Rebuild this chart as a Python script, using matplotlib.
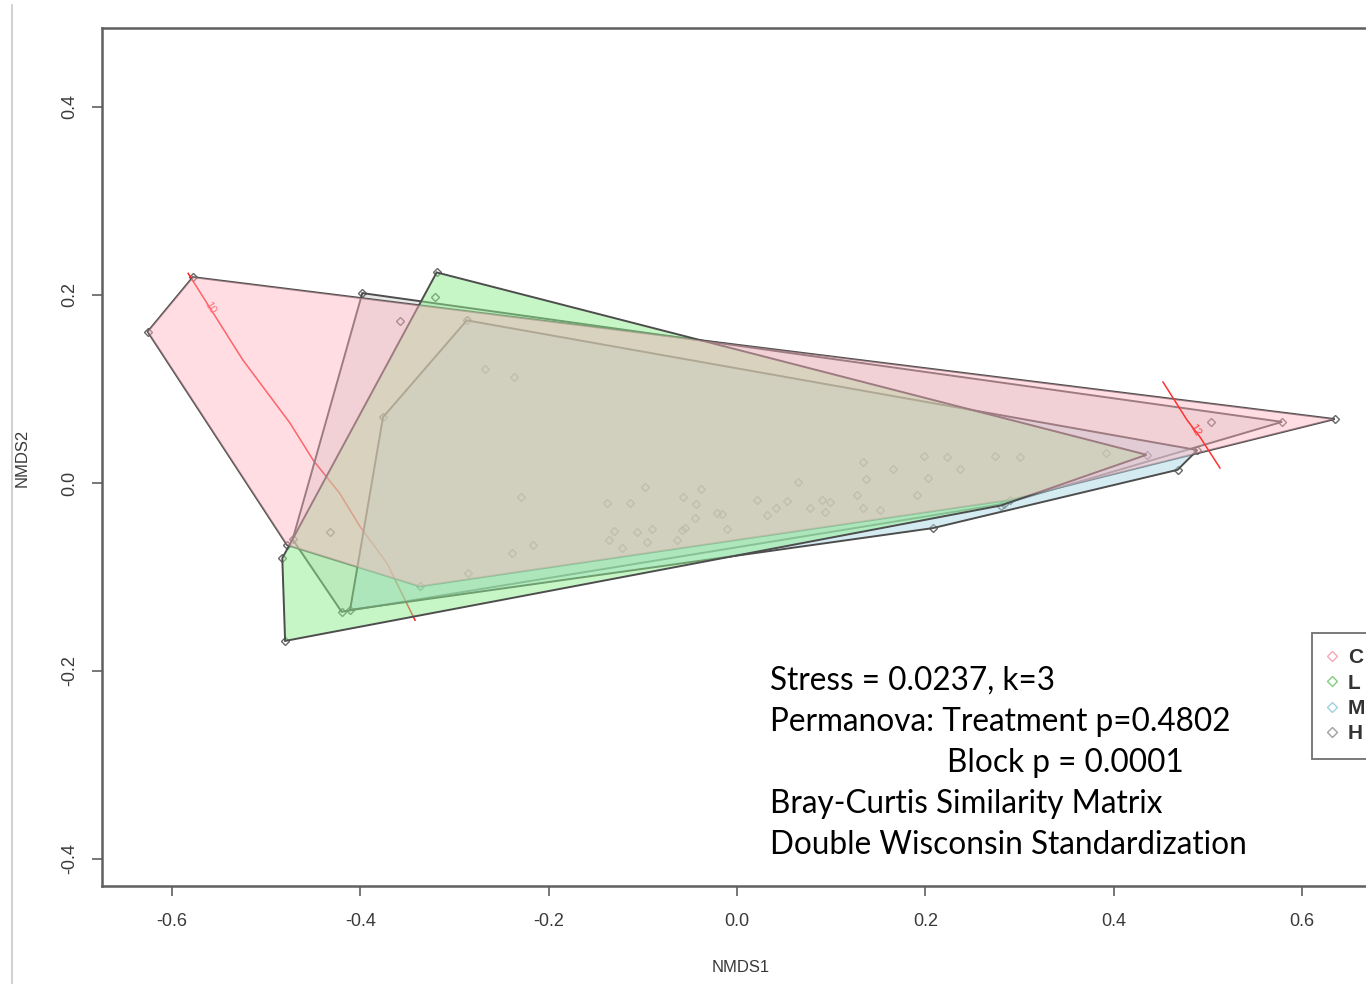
import matplotlib.pyplot as plt
import numpy as np
from matplotlib.patches import Polygon
from matplotlib.lines import Line2D

plt.rcParams['font.family'] = ['Liberation Sans Narrow', 'Liberation Sans', 'DejaVu Sans']

# NMDS site scores per treatment group
C_x = [-0.578, -0.626, -0.478, -0.337, 0.290, 0.635,
       -0.268, -0.0977, -0.0446, -0.1356, -0.2393, -0.0103, 0.0315, 0.0988, 0.134, -0.064, 0.237, 0.152,
       -0.432, -0.358, 0.504]
C_y = [0.219, 0.161, -0.066, -0.110, -0.018, 0.068,
       0.121, -0.0039, -0.0376, -0.0606, -0.0748, -0.0493, -0.034, -0.0199, 0.0227, -0.0606, 0.0149, -0.0287,
       -0.052, 0.172, 0.065]
L_x = [-0.319, -0.483, -0.480, 0.280, 0.435,
       -0.229, -0.057, -0.0906, -0.1225, -0.0216, 0.0411, 0.0775, 0.127, 0.1986, 0.3006, 0.191, -0.1065,
       -0.321]
L_y = [0.224, -0.080, -0.168, -0.024, 0.030,
       -0.0146, -0.0152, -0.0493, -0.0695, -0.0316, -0.027, -0.027, -0.0128, 0.0287, 0.0277, -0.0128, -0.052,
       0.198]
M_x = [-0.287, -0.376, -0.411, 0.208, 0.468, 0.489,
       -0.138, -0.0435, -0.131, -0.2163, -0.0163, 0.0528, 0.090, 0.137, 0.2227, 0.392, 0.134, -0.0588]
M_y = [0.173, 0.070, -0.135, -0.048, 0.014, 0.035,
       -0.0216, -0.0227, -0.0507, -0.066, -0.033, -0.0191, -0.0181, 0.0039, 0.0273, 0.032, -0.0266, -0.05]
H_x = [-0.398, -0.472, -0.420, 0.284, 0.579,
       -0.237, -0.0386, -0.0552, -0.0959, -0.2854, 0.0216, 0.0651, 0.0935, 0.166, 0.274, 0.203, -0.114]
H_y = [0.202, -0.060, -0.137, -0.022, 0.065,
       0.113, -0.0064, -0.0482, -0.0624, -0.0954, -0.0181, 0.0014, -0.0305, 0.0146, 0.0287, 0.0053, -0.021]

# fitted surface contour lines
contour10_x = [-0.583, -0.525, -0.475, -0.450, -0.422, -0.400, -0.372, -0.342]
contour10_y = [0.223, 0.131, 0.064, 0.024, -0.011, -0.047, -0.085, -0.146]
contour12_x = [0.4525, 0.478, 0.4918, 0.513]
contour12_y = [0.1074, 0.067, 0.0489, 0.016]

groups = ["C", "L", "M", "H"]
stats_lines = ["Stress = 0.0237, k=3",
               "Permanova: Treatment p=0.4802",
               "Block p = 0.0001",
               "Bray-Curtis Similarity Matrix",
               "Double Wisconsin Standardization"]


def convex_hull(xs, ys):
    pts = sorted(set(zip(xs, ys)))

    def cross(o, a, b):
        return (a[0] - o[0]) * (b[1] - o[1]) - (a[1] - o[1]) * (b[0] - o[0])

    lower = []
    for p in pts:
        while len(lower) >= 2 and cross(lower[-2], lower[-1], p) <= 0:
            lower.pop()
        lower.append(p)
    upper = []
    for p in reversed(pts):
        while len(upper) >= 2 and cross(upper[-2], upper[-1], p) <= 0:
            upper.pop()
        upper.append(p)
    return np.array(lower[:-1] + upper[:-1])


W, H = 1366, 984
fig = plt.figure(figsize=(W / 100, H / 100), dpi=100)
ax = fig.add_axes([102 / W, 1 - 886 / H, (1380 - 102) / W, (886 - 28) / H])
ax.set_xlim(-0.6745, 0.683)
ax.set_ylim(-0.4287, 0.484)

data = {"C": (C_x, C_y), "L": (L_x, L_y), "M": (M_x, M_y), "H": (H_x, H_y)}
fills = {"C": (1.0, 0.71, 0.76, 0.45), "L": (0.56, 0.93, 0.56, 0.5),
         "M": (0.68, 0.85, 0.90, 0.5), "H": (0.5, 0.5, 0.5, 0.18)}
marker_cols = {"C": "#f4a8b8", "L": "#7fcf7f", "M": "#9fcfe0", "H": "#a0a0a0"}
hulls = {g: convex_hull(*data[g]) for g in groups}

# points underneath the hulls
for g in groups:
    gx, gy = data[g]
    ax.plot(gx, gy, ls="none", marker="D", ms=4.5, mfc="none", mec="#666666", mew=1.0, zorder=1)

ax.plot(contour10_x, contour10_y, color="#ff2020", lw=1.1, zorder=1.5)
ax.plot(contour12_x, contour12_y, color="#ff3030", lw=1.1, zorder=9)
ax.text(-0.560, 0.186, "10", color="#ff4040", fontsize=8, rotation=-58,
        ha="center", va="center", zorder=1.5)
ax.text(0.486, 0.056, "12", color="#ff4040", fontsize=8, rotation=-60,
        ha="center", va="center", zorder=9)

# C outline sits below the other hulls, its fill goes on top
ax.add_patch(Polygon(hulls["C"], closed=True, fill=False, edgecolor="#4d4d4d", lw=1.4, zorder=2))
for i, g in enumerate(["H", "M", "L"]):
    ax.add_patch(Polygon(hulls[g], closed=True, facecolor=fills[g], edgecolor="#4d4d4d",
                         lw=1.4, zorder=3 + i))
ax.add_patch(Polygon(hulls["C"], closed=True, facecolor=fills["C"], edgecolor="none", zorder=6))

for sp in ax.spines.values():
    sp.set_color("#606060")
    sp.set_linewidth(1.8)

ax.set_xticks([-0.6, -0.4, -0.2, 0.0, 0.2, 0.4, 0.6])
ax.set_xticklabels(["-0.6", "-0.4", "-0.2", "0.0", "0.2", "0.4", "0.6"])
ax.set_yticks([-0.4, -0.2, 0.0, 0.2, 0.4])
ax.set_yticklabels(["-0.4", "-0.2", "0.0", "0.2", "0.4"], rotation=90, va="center")
ax.tick_params(length=7, width=1.2, color="#606060", labelsize=13, labelcolor="#3a3a3a")
ax.tick_params(axis="x", pad=12.5)
ax.tick_params(axis="y", pad=10)

fig.text(741 / W, 1 - 967 / H, "NMDS1", ha="center", va="center", fontsize=12, color="#3a3a3a")
fig.text(22 / W, 1 - 458 / H, "NMDS2", ha="center", va="center", fontsize=12,
         color="#3a3a3a", rotation=90)

# border line at the left edge
fig.add_artist(Line2D([12 / W, 12 / W], [0, 1 - 5 / H], color="#c8c8c8", lw=1.2))

ys = [681, 722, 763, 804, 845]
xs = [770, 770, 947, 770, 770]
for txt, x0, y0 in zip(stats_lines, xs, ys):
    fig.text(x0 / W, 1 - y0 / H, txt, ha="left", va="center", fontsize=22.7,
             family=["Lato", "DejaVu Sans"], color="black")

handles = [Line2D([], [], ls="none", marker="D", ms=5.5, mfc="none", mec=marker_cols[g], mew=1.0)
           for g in groups]
leg = ax.legend(handles, groups, loc="upper left", bbox_to_anchor=(1312 / W, 1 - 633 / H),
                bbox_transform=fig.transFigure, fancybox=False, framealpha=1,
                edgecolor="#707070", borderpad=0.74, borderaxespad=0, handlelength=0.43,
                handletextpad=0.55, labelspacing=0.3,
                prop={"family": "Liberation Sans", "size": 15, "weight": "bold"})
leg.get_frame().set_linewidth(1.3)
for t in leg.get_texts():
    t.set_color("#333333")

fig.savefig("out.png", dpi=100)
